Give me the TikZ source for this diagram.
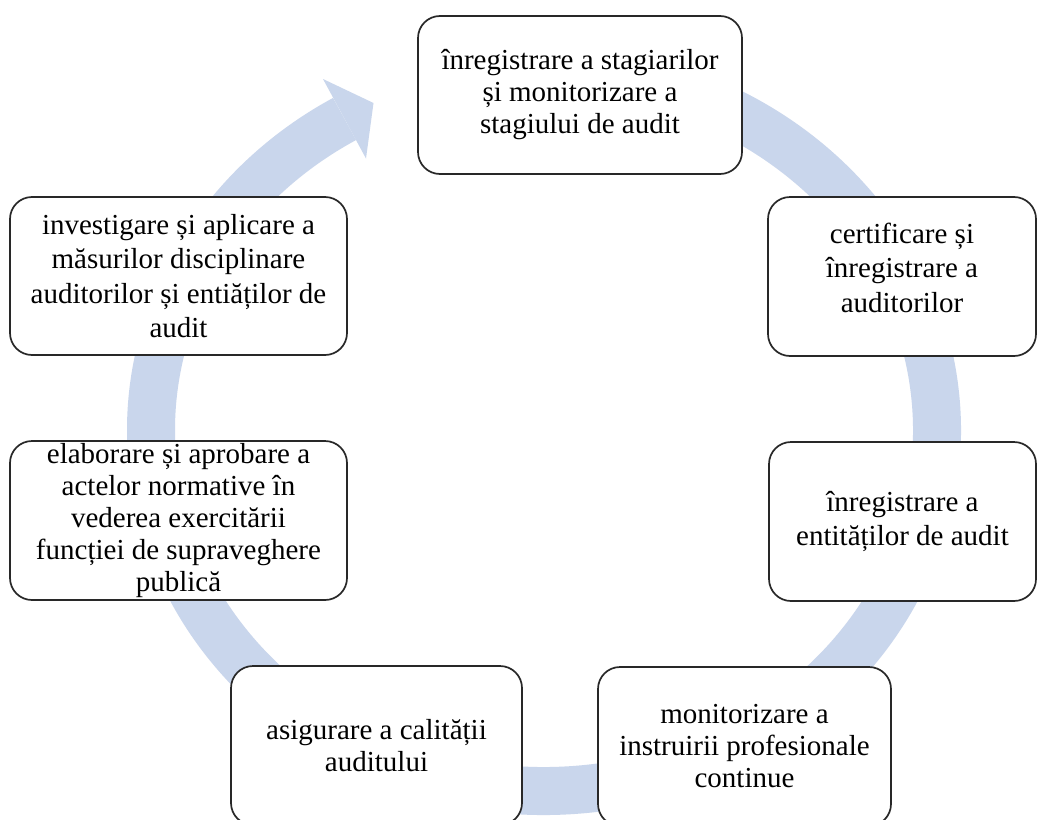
\documentclass[tikz,border=0pt]{standalone}
\usepackage{fontspec}
\setmainfont{Liberation Serif}
\definecolor{ringblue}{RGB}{201,214,236}
\definecolor{boxline}{RGB}{40,40,40}
\begin{document}
\begin{tikzpicture}[x=1pt,y=-1pt,
  box/.style={draw=boxline, line width=1.7pt, fill=white, rounded corners=22pt,
    align=center, inner sep=0pt, font=\fontsize{29}{32}\selectfont},
  wide/.style={font=\fontsize{29}{34.5}\selectfont},
  ring/.style={draw=ringblue, line width=48pt},
  head/.style={fill=ringblue}
]
\useasboundingbox (0,0) rectangle (1038,819);
\clip (0,0) rectangle (1038,819);
\fill[white] (0,0) rectangle (1038,819);

% cycle arrow
\coordinate (tail) at (509.75,70.4);
\draw[ring] (tail) arc[start angle=-95, end angle=239.5, x radius=393, y radius=361];
\coordinate (hc1) at (323.0,79.0);
\coordinate (htip) at (373.5,103.0);
\coordinate (hc2) at (366.0,158.5);
\fill[head] (hc1) -- (htip) -- (hc2) -- cycle;

% boxes
\node[box, minimum width=324pt, minimum height=158pt] (b1) at (580,95)
  {înregistrare a stagiarilor\\și monitorizare a\\stagiului de audit};
\node[box, wide, minimum width=268pt, minimum height=159pt] (b2) at (902,276.5)
  {certificare și\\înregistrare a\\auditorilor\\[-16.5pt]};
\node[box, wide, minimum width=267pt, minimum height=159pt] (b3) at (902.5,521.5)
  {înregistrare a\\entităților de audit};
\node[box, minimum width=293pt, minimum height=159pt] (b4) at (744.5,746.5)
  {monitorizare a\\instruirii profesionale\\continue};
\node[box, minimum width=291pt, minimum height=159pt] (b5) at (376.5,745.5)
  {asigurare a calității\\auditului};
\node[box, minimum width=337pt, minimum height=159pt] (b6) at (178.5,520.5)
  {elaborare și aprobare a\\actelor normative în\\vederea exercitării\\funcției de supraveghere\\publică};
\node[box, wide, minimum width=337pt, minimum height=158pt] (b7) at (178.5,276)
  {investigare și aplicare a\\măsurilor disciplinare\\auditorilor și entiăților de\\audit};
\end{tikzpicture}
\end{document}
